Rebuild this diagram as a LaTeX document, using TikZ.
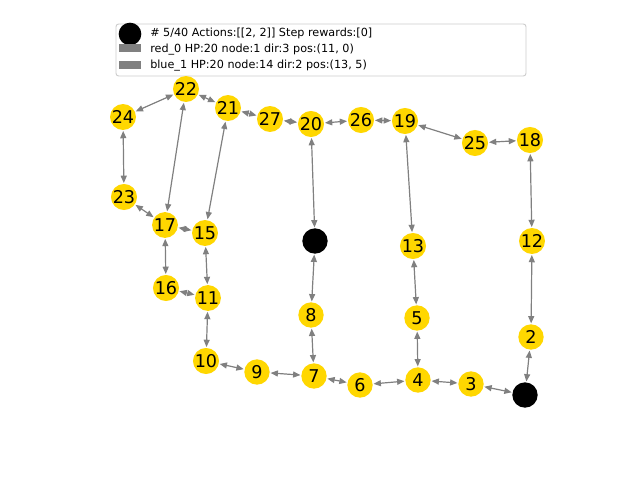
\documentclass[tikz,border=0pt]{standalone}
\usepackage{fontspec}
\setmainfont{DejaVu Sans}
\usetikzlibrary{arrows.meta}
\definecolor{gold}{HTML}{FFD700}
\definecolor{edgegray}{HTML}{808080}
\definecolor{framegray}{HTML}{CCCCCC}
\tikzset{
  vnode/.style={circle, fill=gold, draw=none, inner sep=0pt, minimum size=19pt, font=\fontsize{13.2}{13}\selectfont},
  agent/.style={circle, fill=black, draw=none, inner sep=0pt, minimum size=19pt},
  edge/.style={draw=edgegray, line width=0.9pt, {Triangle[length=5.5pt,width=4.5pt]}-{Triangle[length=5.5pt,width=4.5pt]}, shorten <=0.5pt, shorten >=0.5pt},
  legtext/.style={anchor=west, inner sep=0pt, font=\fontsize{8.4}{10}\selectfont},
  legrect/.style={fill=edgegray, draw=none, minimum width=16.5pt, minimum height=6.5pt, inner sep=0pt}
}
\begin{document}
\begin{tikzpicture}[x=0.75pt,y=-0.75pt]
\useasboundingbox (0,0) rectangle (640,480);
\fill[white] (0,0) rectangle (640,480);
% legend
\draw[framegray, fill=white, rounded corners=2pt, line width=0.7pt] (116,24) rectangle (526,76);
\node[agent, minimum size=17pt] (legdot) at (130,34) {};
\node[legrect] (legred) at (130,48) {};
\node[legrect] (legblue) at (130,65) {};
\node[legtext] (t1) at (150,33.5) {\# 5/40 Actions:[[2, 2]] Step rewards:[0]};
\node[legtext] (t2) at (150,49.5) {red\_0 HP:20 node:1 dir:3 pos:(11, 0)};
\node[legtext] (t3) at (150,66) {blue\_1 HP:20 node:14 dir:2 pos:(13, 5)};
% nodes
\node[vnode] (n22) at (186,89) {22};
\node[vnode] (n24) at (123,117) {24};
\node[vnode] (n21) at (228,108) {21};
\node[vnode] (n27) at (270,119) {27};
\node[vnode] (n20) at (311,124) {20};
\node[vnode] (n26) at (361,120) {26};
\node[vnode] (n19) at (405,121) {19};
\node[vnode] (n25) at (475,143) {25};
\node[vnode] (n18) at (530,140) {18};
\node[vnode] (n23) at (124,197) {23};
\node[vnode] (n17) at (165,225) {17};
\node[vnode] (n15) at (205,233) {15};
\node[agent] (n14) at (315,241) {};
\node[vnode] (n13) at (413,246) {13};
\node[vnode] (n12) at (532,241) {12};
\node[vnode] (n16) at (166,288) {16};
\node[vnode] (n11) at (208,298) {11};
\node[vnode] (n8) at (311,315) {8};
\node[vnode] (n5) at (417,318) {5};
\node[vnode] (n2) at (531,337) {2};
\node[vnode] (n10) at (206,361) {10};
\node[vnode] (n9) at (257,372) {9};
\node[vnode] (n7) at (314,376) {7};
\node[vnode] (n6) at (360,385) {6};
\node[vnode] (n4) at (418,380) {4};
\node[vnode] (n3) at (471,384) {3};
\node[agent] (n1) at (525,395) {};
% edges
\draw[edge] (n22) -- (n24);
\draw[edge] (n22) -- (n21);
\draw[edge] (n22) -- (n17);
\draw[edge] (n24) -- (n23);
\draw[edge] (n23) -- (n17);
\draw[edge] (n17) -- (n15);
\draw[edge] (n17) -- (n16);
\draw[edge] (n21) -- (n27);
\draw[edge] (n21) -- (n15);
\draw[edge] (n27) -- (n20);
\draw[edge] (n20) -- (n26);
\draw[edge] (n20) -- (n14);
\draw[edge] (n26) -- (n19);
\draw[edge] (n19) -- (n25);
\draw[edge] (n19) -- (n13);
\draw[edge] (n25) -- (n18);
\draw[edge] (n18) -- (n12);
\draw[edge] (n15) -- (n11);
\draw[edge] (n16) -- (n11);
\draw[edge] (n11) -- (n10);
\draw[edge] (n10) -- (n9);
\draw[edge] (n9) -- (n7);
\draw[edge] (n7) -- (n8);
\draw[edge] (n8) -- (n14);
\draw[edge] (n7) -- (n6);
\draw[edge] (n6) -- (n4);
\draw[edge] (n4) -- (n5);
\draw[edge] (n5) -- (n13);
\draw[edge] (n4) -- (n3);
\draw[edge] (n3) -- (n1);
\draw[edge] (n1) -- (n2);
\draw[edge] (n2) -- (n12);
\end{tikzpicture}
\end{document}
